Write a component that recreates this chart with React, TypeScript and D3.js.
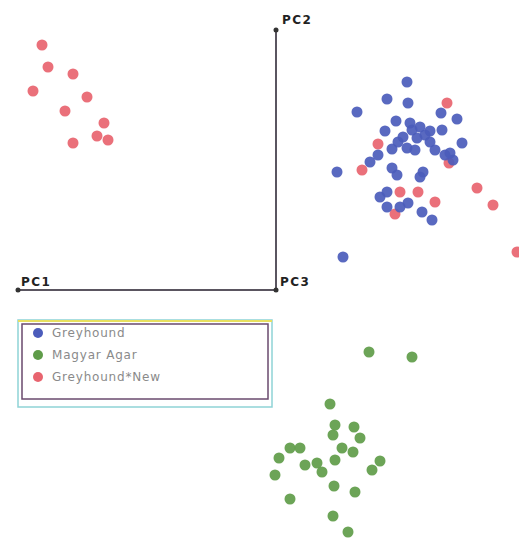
import React, { useEffect, useRef } from 'react';
import * as d3 from 'd3';

// PCA scores (PC1, PC2)
const greyhound: [number, number][] = [
  [1.31, 2.08], [1.11, 1.91], [1.32, 1.87], [0.81, 1.78], [1.65, 1.77], [1.81, 1.71],
  [1.2, 1.69], [1.34, 1.67], [1.44, 1.63], [1.09, 1.59], [1.54, 1.59], [1.66, 1.6],
  [1.27, 1.53], [1.41, 1.52], [1.54, 1.48], [1.86, 1.47], [1.16, 1.41], [1.31, 1.42],
  [1.69, 1.35], [1.77, 1.3], [1.74, 1.37], [0.94, 1.28], [0.61, 1.18], [1.16, 1.22],
  [1.21, 1.15], [1.47, 1.18], [1.44, 1.13], [1.04, 0.93], [1.11, 0.98], [1.32, 0.87],
  [1.11, 0.83], [1.24, 0.83], [1.46, 0.78], [1.56, 0.7], [0.67, 0.33],
  [1.36, 1.6], [1.49, 1.55], [1.22, 1.48], [1.39, 1.4], [1.59, 1.4], [1.02, 1.35],
];

const magyarAgar: [number, number][] = [
  [0.93, -0.62], [1.36, -0.67], [0.54, -1.14], [0.59, -1.35], [0.57, -1.45], [0.78, -1.37],
  [0.84, -1.48], [0.14, -1.58], [0.24, -1.58], [0.66, -1.58], [0.77, -1.62], [0.03, -1.68],
  [0.59, -1.7], [1.04, -1.71], [0.96, -1.8], [0.29, -1.75], [0.41, -1.73], [0.46, -1.82],
  [-0.01, -1.85], [0.58, -1.96], [0.79, -2.02], [0.14, -2.09], [0.57, -2.26], [0.72, -2.42],
];

const greyhoundNew: [number, number][] = [
  [-2.34, 2.45], [-2.28, 2.23], [-2.03, 2.16], [-2.43, 1.99], [-1.89, 1.93], [-2.11, 1.79],
  [-1.72, 1.67], [-1.79, 1.54], [-1.68, 1.5], [-2.03, 1.47],
  [1.71, 1.87], [1.02, 1.46], [0.86, 1.2], [1.24, 0.98], [1.42, 0.98], [1.59, 0.88],
  [1.19, 0.76], [2.01, 1.02], [2.17, 0.85], [2.41, 0.38], [1.73, 1.27],
];

const seriesNames = ['Greyhound', 'Magyar Agar', 'Greyhound*New'];
const seriesColors = ['#4b5cbb', '#5f9c49', '#e8646f'];

// axis end points in PC units
const pc1End: [number, number] = [-2.58, 0];
const pc2End: [number, number] = [0, 2.6];

const App = () => {
  const svgRef = useRef<SVGSVGElement>(null);

  useEffect(() => {
    const svg = d3.select(svgRef.current);
    svg.selectAll('*').remove();

    const x = d3.scaleLinear().domain([-2.58, 0]).range([18, 276]);
    const y = d3.scaleLinear().domain([0, 2.6]).range([290, 30]);

    // axes
    const axisColor = '#5a5560';
    svg.append('line')
      .attr('x1', x(pc1End[0])).attr('y1', y(pc1End[1]))
      .attr('x2', x(0)).attr('y2', y(0))
      .attr('stroke', axisColor).attr('stroke-width', 2);
    svg.append('line')
      .attr('x1', x(0)).attr('y1', y(0))
      .attr('x2', x(pc2End[0])).attr('y2', y(pc2End[1]))
      .attr('stroke', axisColor).attr('stroke-width', 2);

    [pc1End, [0, 0], pc2End].forEach((p) => {
      svg.append('circle')
        .attr('cx', x(p[0])).attr('cy', y(p[1]))
        .attr('r', 2.5).attr('fill', '#333');
    });

    const labelFont = 'DejaVu Sans, sans-serif';
    const addLabel = (lx: number, ly: number, t: string) =>
      svg.append('text').attr('x', lx).attr('y', ly)
        .attr('font-family', labelFont).attr('font-size', 12).attr('font-weight', 'bold')
        .attr('letter-spacing', 1.5).attr('fill', '#222').text(t);
    addLabel(x(pc1End[0]) + 3, y(0) - 4, 'PC1');
    addLabel(x(0) + 6, y(pc2End[1]) - 6, 'PC2');
    addLabel(x(0) + 4, y(0) - 4, 'PC3');

    // points
    const drawSeries = (data: [number, number][], color: string) => {
      svg.append('g')
        .selectAll('circle')
        .data(data)
        .join('circle')
        .attr('cx', (d) => x(d[0]))
        .attr('cy', (d) => y(d[1]))
        .attr('r', 5.5)
        .attr('fill', color)
        .attr('opacity', 0.92);
    };
    drawSeries(magyarAgar, seriesColors[1]);
    drawSeries(greyhoundNew, seriesColors[2]);
    drawSeries(greyhound, seriesColors[0]);

    // legend
    const legend = svg.append('g').attr('transform', 'translate(18, 320)');
    legend.append('rect').attr('x', 0).attr('y', 0).attr('width', 254).attr('height', 87)
      .attr('fill', 'none').attr('stroke', '#8fd3d6').attr('stroke-width', 1.5);
    legend.append('line').attr('x1', 0).attr('y1', 1).attr('x2', 254).attr('y2', 1)
      .attr('stroke', '#e8e060').attr('stroke-width', 2);
    legend.append('rect').attr('x', 4).attr('y', 4).attr('width', 246).attr('height', 75)
      .attr('fill', 'none').attr('stroke', '#6a4a6e').attr('stroke-width', 1.5);

    seriesNames.forEach((name, i) => {
      const row = legend.append('g').attr('transform', `translate(0, ${13 + i * 22})`);
      row.append('circle').attr('cx', 20).attr('cy', 0).attr('r', 5).attr('fill', seriesColors[i]);
      row.append('text').attr('x', 34).attr('y', 4)
        .attr('font-family', 'DejaVu Sans, sans-serif').attr('font-size', 12)
        .attr('letter-spacing', 0.8)
        .attr('fill', '#8a8a8a').text(name);
    });
  }, []);

  return (
    <svg ref={svgRef} width={519} height={539}
      style={{ position: 'absolute', left: 0, top: 0, background: '#fff' }} />
  );
};

export default App;
